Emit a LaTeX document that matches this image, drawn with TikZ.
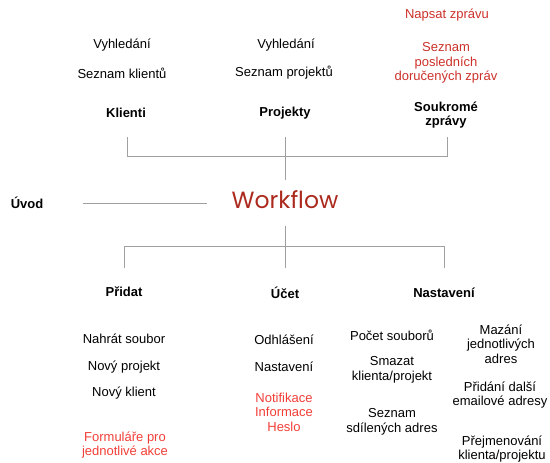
\documentclass[tikz,border=0pt]{standalone}
\usepackage{fontspec}
\setmainfont{Liberation Sans}
\newfontfamily\wffont{Poppins}
\usepackage{xcolor}
\usetikzlibrary{positioning}
\definecolor{wfred}{HTML}{AC2A1D}
\definecolor{notered}{HTML}{CC3129}
\definecolor{brightred}{HTML}{F23E37}
\definecolor{linegray}{HTML}{A0A0A0}

\begin{document}
\begin{tikzpicture}[
			x=1pt,y=-1pt,
			every node/.style={
				align=center,
				inner sep=1pt,
				font=\fontsize{13}{14.5}\selectfont
			},
			head/.style={font=\fontsize{13}{14}\selectfont\bfseries},
			note/.style={text=notered},
			alert/.style={text=brightred},
			link/.style={draw=linegray,line width=0.6pt}
			]
			\useasboundingbox (0,0) rectangle (550,463);
			
			% top part
			\node[note] (napsat) at (447,15) {Napsat zprávu};
			\node (vyhk) at (122,45) {Vyhledání};
			\node (seznk) at (122,73) {Seznam klientů};
			\node[head] (klienti) at (126,113) {Klienti};
			\node (vyhp) at (286,45) {Vyhledání};
			\node (seznp) at (284,73) {Seznam projektů};
			\node[head] (projekty) at (285,113) {Projekty};
			\node[note] (posl) at (446,63) {Seznam\\posledních\\doručených zpráv};
			\node[head] (zpravy) at (446,115) {Soukromé\\zprávy};
			
			% center
			\node[text=wfred,font=\fontsize{23.5}{26}\selectfont\wffont] (workflow) at (285,200) {Workflow};
			\node[head] (uvod) at (27,203) {Úvod};
			
			% bottom part
			\node[head] (pridat) at (124,292) {Přidat};
			\node[head] (ucet) at (285,293) {Účet};
			\node[head] (nastaveni) at (444,293) {Nastavení};
			
			\node (nahrat) at (124,339) {Nahrát soubor};
			\node (projekt) at (124,367) {Nový projekt};
			\node (klient) at (124,393) {Nový klient};
			\node[alert] (formulare) at (125,445) {Formuláře pro\\jednotlivé akce};
			
			\node (odhl) at (284,340) {Odhlášení};
			\node (nast) at (284,367) {Nastavení};
			\node[alert] (notif) at (284,412) {Notifikace\\Informace\\Heslo};
			
			\node (pocet) at (392,335) {Počet souborů};
			\node (smazat) at (392,370) {Smazat\\klienta/projekt};
			\node (sdilene) at (392,422) {Seznam\\sdílených adres};
			
			\node (mazani) at (501,344) {Mazání\\jednotlivých\\adres};
			\node (pridani) at (500,395) {Přidání další\\emailové adresy};
			\node (prejm) at (502,449) {Přejmenování\\klienta/projektu};
			
			% connectors
			\coordinate (t1) at (127,137);
			\coordinate (t2) at (285,137);
			\coordinate (t3) at (447,137);
			\coordinate (thub) at (285,156);
			\coordinate (wtop) at (285,180);
			\coordinate (wbot) at (285,226);
			\coordinate (bhub) at (285,246);
			\coordinate (b1) at (124,268);
			\coordinate (b2) at (285,268);
			\coordinate (b3) at (444,268);
			\coordinate (ua) at (83,203);
			\coordinate (ub) at (207,203);
			
			\draw[link] (t1) -- (t1 |- thub) -- (t3 |- thub) -- (t3);
			\draw[link] (t2) -- (wtop);
			\draw[link] (wbot) -- (b2);
			\draw[link] (b1) -- (b1 |- bhub) -- (b3 |- bhub) -- (b3);
			\draw[link] (ua) -- (ub);
			
		\end{tikzpicture}
\end{document}
